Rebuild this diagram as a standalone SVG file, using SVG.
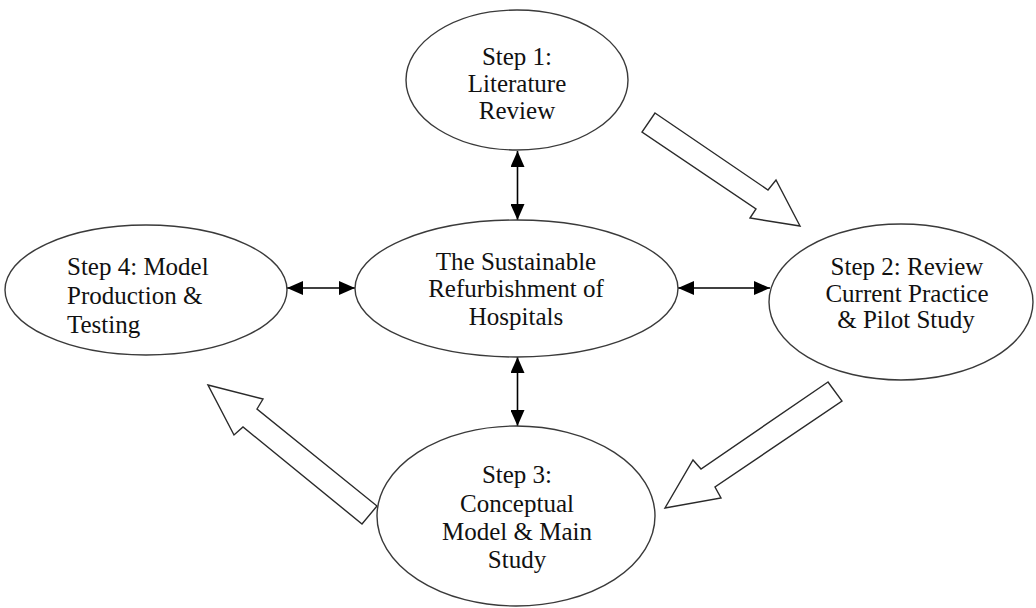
<svg xmlns="http://www.w3.org/2000/svg" width="1036" height="608" viewBox="0 0 1036 608">
<defs>
<style>
.node ellipse{fill:#fff;stroke:#3a3a3a;stroke-width:1.4}
text{font-family:"Liberation Serif","Times New Roman",serif;font-size:25px;fill:#111}
.c{text-anchor:middle}
.dbl{stroke:#000;stroke-width:1.6;fill:none;marker-start:url(#ah);marker-end:url(#ah)}
.blk{fill:#fff;stroke:#2a2a2a;stroke-width:1.4;stroke-linejoin:miter}
</style>
<marker id="ah" viewBox="0 0 16 14" refX="16" refY="7" markerWidth="16" markerHeight="14" markerUnits="userSpaceOnUse" orient="auto-start-reverse">
<path d="M0,0 L16,7 L0,14 Z" fill="#000"/>
</marker>
</defs>
<rect width="1036" height="608" fill="#fff"/>
<g id="connectors">
<line class="dbl" x1="517.5" y1="151" x2="517.5" y2="220"/>
<line class="dbl" x1="517.5" y1="357" x2="517.5" y2="426"/>
<line class="dbl" x1="287" y1="288" x2="355" y2="288"/>
<line class="dbl" x1="678" y1="288" x2="770" y2="288"/>
<polygon class="blk" points="655,113 768,190 776,180 800,226 750,218 756,209 642,132"/>
<polygon class="blk" points="828,382 701,469 693,460 665,508 721,498 715,487 842,401"/>
<polygon class="blk" points="208,385 263,399 257,409 377,506 362,524 243,427 234,435"/>
</g>
<g id="step1" class="node">
<ellipse cx="517" cy="80" rx="111" ry="70"/>
<text class="c" x="517" y="65">Step 1:</text>
<text class="c" x="517" y="92">Literature</text>
<text class="c" x="517" y="119">Review</text>
</g>
<g id="center" class="node">
<ellipse cx="516.5" cy="288.5" rx="161.5" ry="68.5"/>
<text class="c" x="516" y="270">The Sustainable</text>
<text class="c" x="516" y="297">Refurbishment of</text>
<text class="c" x="516" y="325">Hospitals</text>
</g>
<g id="step4" class="node">
<ellipse cx="146" cy="290" rx="141" ry="65"/>
<text x="67" y="275">Step 4: Model</text>
<text x="67" y="304">Production &amp;</text>
<text x="67" y="333">Testing</text>
</g>
<g id="step2" class="node">
<ellipse cx="901" cy="302" rx="132" ry="78"/>
<text class="c" x="907" y="275">Step 2: Review</text>
<text class="c" x="907" y="302">Current Practice</text>
<text class="c" x="906" y="328">&amp; Pilot Study</text>
</g>
<g id="step3" class="node">
<ellipse cx="516" cy="516" rx="139" ry="90"/>
<text class="c" x="517" y="483">Step 3:</text>
<text class="c" x="517" y="512">Conceptual</text>
<text class="c" x="517" y="540">Model &amp; Main</text>
<text class="c" x="517" y="568">Study</text>
</g>
</svg>
